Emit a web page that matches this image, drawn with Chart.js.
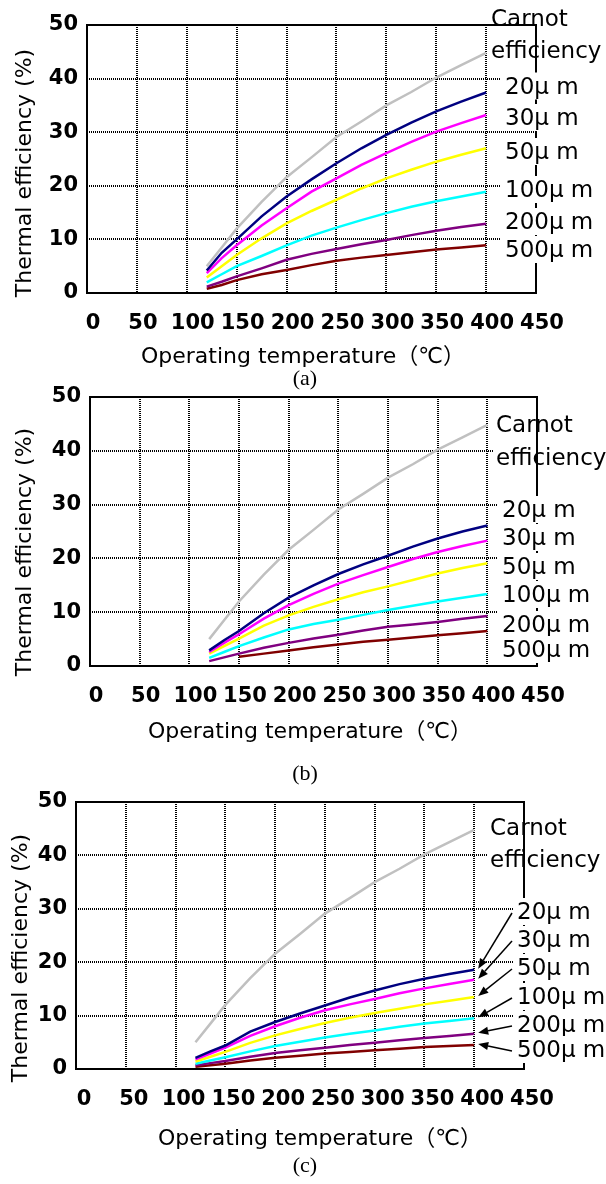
<!DOCTYPE html>
<html>
<head>
<meta charset="utf-8">
<script src="https://cdn.jsdelivr.net/npm/chart.js@4.4.1/dist/chart.umd.min.js"></script>
<style>
  html, body { margin: 0; padding: 0; background: #fff; }
  #page { position: relative; width: 606px; height: 1184px; overflow: hidden; background: #fff; }
  #page canvas { position: absolute; left: 0; }
  .caption {
    position: absolute; width: 60px; text-align: center;
    font-family: "Liberation Serif", "DejaVu Serif", serif;
    font-size: 22px; line-height: 24px; color: #000;
  }
</style>
</head>
<body>
<div id="page">
  <canvas id="chartA" width="606" height="380" style="top:0px"></canvas>
  <canvas id="chartB" width="606" height="405" style="top:380px"></canvas>
  <canvas id="chartC" width="606" height="399" style="top:785px"></canvas>
  <div class="caption" style="left:275px; top:366px">(a)</div>
  <div class="caption" style="left:275px; top:761px">(b)</div>
  <div class="caption" style="left:275px; top:1153px">(c)</div>
</div>
<script>
// Operating temperature (°C) of each point
const temps = [120, 135, 150, 175, 200, 225, 250, 275, 300, 325, 350, 375, 400];

// Carnot limit, same in all three panels
const carnot = [5.0, 8.5, 12.0, 17.0, 21.6, 25.3, 29.1, 32.0, 35.0, 37.5, 40.2, 42.5, 44.8];

// (a)
const a20  = [4.2, 7.5, 10.0, 14.3, 18.0, 21.2, 24.2, 27.0, 29.5, 31.8, 33.9, 35.7, 37.4];
const a30  = [3.7, 6.5, 8.9, 12.6, 15.8, 18.9, 21.4, 23.9, 26.1, 28.2, 30.1, 31.7, 33.2];
const a50  = [2.9, 5.0, 7.1, 10.2, 13.0, 15.3, 17.4, 19.5, 21.4, 23.0, 24.5, 25.8, 27.0];
const a100 = [2.0, 3.5, 5.0, 6.9, 8.9, 10.7, 12.2, 13.6, 14.9, 16.1, 17.1, 18.0, 18.9];
const a200 = [1.2, 2.1, 3.1, 4.6, 6.2, 7.3, 8.2, 9.1, 9.9, 10.8, 11.6, 12.3, 12.9];
const a500 = [0.8, 1.5, 2.4, 3.5, 4.3, 5.2, 6.0, 6.6, 7.1, 7.6, 8.1, 8.5, 8.9];

// (b)
const b20  = [2.9, 4.8, 6.5, 9.8, 12.7, 15.0, 17.1, 18.9, 20.5, 22.2, 23.7, 25.0, 26.1];
const b30  = [2.6, 4.3, 5.9, 8.8, 11.3, 13.4, 15.3, 16.9, 18.4, 19.9, 21.2, 22.3, 23.3];
const b50  = [2.3, 3.7, 5.1, 7.5, 9.4, 11.0, 12.4, 13.7, 14.8, 16.0, 17.2, 18.2, 19.1];
const b100 = [1.5, 2.6, 3.7, 5.3, 6.8, 7.8, 8.6, 9.5, 10.4, 11.2, 12.0, 12.7, 13.4];
const b200 = [0.9, 1.6, 2.3, 3.4, 4.3, 5.1, 5.8, 6.6, 7.3, 7.7, 8.2, 8.8, 9.3];
const b500 = [null, null, 1.7, 2.3, 2.9, 3.5, 4.0, 4.5, 4.9, 5.3, 5.7, 6.1, 6.5];

// (c)
const c20  = [2.1, 3.3, 4.4, 7.0, 8.8, 10.4, 11.9, 13.4, 14.7, 15.9, 16.9, 17.8, 18.6];
const c30  = [1.8, 2.9, 4.0, 6.2, 8.0, 9.6, 11.0, 12.1, 13.1, 14.2, 15.1, 15.9, 16.7];
const c50  = [1.4, 2.3, 3.2, 4.9, 6.3, 7.5, 8.6, 9.6, 10.5, 11.3, 12.1, 12.8, 13.5];
const c100 = [1.0, 1.6, 2.2, 3.3, 4.3, 5.1, 5.9, 6.6, 7.2, 7.9, 8.5, 9.0, 9.5];
const c200 = [0.7, 1.1, 1.5, 2.3, 3.0, 3.5, 4.0, 4.5, 4.9, 5.4, 5.8, 6.2, 6.6];
const c500 = [0.4, 0.7, 1.0, 1.6, 2.1, 2.5, 2.9, 3.2, 3.5, 3.8, 4.1, 4.3, 4.5];

const seriesNames = ['Carnot efficiency', '20μm', '30μm', '50μm', '100μm', '200μm', '500μm'];
const thicknessLabels = ['20μ m', '30μ m', '50μ m', '100μ m', '200μ m', '500μ m'];
const seriesColors = ['#C0C0C0', '#000080', '#FF00FF', '#FFFF00', '#00FFFF', '#800080', '#800000'];

const xMin = 0, xMax = 450, xStep = 50;
const yMin = 0, yMax = 50, yStep = 10;
const xTitle = 'Operating temperature（℃）';
const yTitle = 'Thermal efficiency (%)';

const fontFamily = '"DejaVu Sans", "Noto Sans CJK JP", sans-serif';
const tickFont = { family: fontFamily, size: 21, weight: 'bold' };
const titleFont = `22px ${fontFamily}`;
const labelFont = `23px ${fontFamily}`;

// page coordinates of each panel: plot frame, titles, right-hand labels
const panels = {
  chartA: {
    top: 0, frame: { left: 87, top: 25, right: 536, bottom: 293 }, labelOffset: 6,
    xTitle: { x: 303, y: 357 }, yTitle: { x: 25, y: 173 },
    carnot: { x: 491, y1: 25.5, y2: 58 }, frameTo: 66,
    muX: 505, mu: [93.5, 125, 159, 197, 229, 257], arrows: false
  },
  chartB: {
    top: 380, frame: { left: 90, top: 397, right: 537, bottom: 666 }, labelOffset: 6,
    xTitle: { x: 310, y: 732 }, yTitle: { x: 25, y: 552 },
    carnot: { x: 496, y1: 432, y2: 465 }, frameTo: 488,
    muX: 502, mu: [517, 545, 574, 602, 632, 657], arrows: false
  },
  chartC: {
    top: 785, frame: { left: 76, top: 802, right: 524, bottom: 1069 }, labelOffset: 8,
    xTitle: { x: 320, y: 1139 }, yTitle: { x: 21, y: 958 },
    carnot: { x: 490, y1: 835, y2: 867 }, frameTo: 889,
    muX: 517, mu: [919, 947, 975, 1004, 1032, 1057], arrows: true
  }
};

function line(ctx, x1, y1, x2, y2) {
  ctx.beginPath();
  ctx.moveTo(x1, y1);
  ctx.lineTo(x2, y2);
  ctx.stroke();
}

// frame, titles and the labels at the right of each plot
const panelText = {
  id: 'panelText',
  afterDraw(chart) {
    const p = panels[chart.canvas.id];
    const ctx = chart.ctx;
    const ca = chart.chartArea;
    const W = chart.width;
    const off = p.top;
    ctx.save();
    ctx.strokeStyle = '#000';
    ctx.fillStyle = '#000';
    ctx.lineWidth = 2;

    // right edge, partly hidden by the labels
    line(ctx, ca.right, ca.top, ca.right, ca.bottom + 1);

    ctx.font = labelFont;
    ctx.textAlign = 'left';
    ctx.textBaseline = 'alphabetic';

    thicknessLabels.forEach((txt, i) => {
      const base = p.mu[i] - off;
      ctx.fillStyle = '#fff';
      ctx.fillRect(p.muX - 4, base - 21, W, 27);
      ctx.fillStyle = '#000';
      ctx.fillText(txt, p.muX, base);
    });

    const cy1 = p.carnot.y1 - off, cy2 = p.carnot.y2 - off;
    ctx.fillStyle = '#fff';
    ctx.fillRect(p.carnot.x - 3, cy1 - 21, W, cy2 + 6 - (cy1 - 21));
    ctx.fillStyle = '#000';
    ctx.fillText('Carnot', p.carnot.x, cy1);
    ctx.fillText('efficiency', p.carnot.x, cy2);

    if (p.arrows) {
      ctx.lineWidth = 1.5;
      thicknessLabels.forEach((txt, i) => {
        const meta = chart.getDatasetMeta(i + 1);
        const end = meta.data[meta.data.length - 1];
        const tx = end.x + 4, ty = end.y - 1;
        const sx = p.muX - 5, sy = p.mu[i] - off - 6;
        const ang = Math.atan2(ty - sy, tx - sx);
        const hl = 10, hw = 4;
        const bx = tx - hl * Math.cos(ang), by = ty - hl * Math.sin(ang);
        line(ctx, sx, sy, bx, by);
        ctx.beginPath();
        ctx.moveTo(tx, ty);
        ctx.lineTo(bx + hw * Math.sin(ang), by - hw * Math.cos(ang));
        ctx.lineTo(bx - hw * Math.sin(ang), by + hw * Math.cos(ang));
        ctx.closePath();
        ctx.fill();
      });
      ctx.lineWidth = 2;
    }

    // plot frame
    ctx.lineJoin = 'miter';
    ctx.beginPath();
    ctx.moveTo(ca.right, p.frameTo - off);
    ctx.lineTo(ca.right, ca.top);
    ctx.lineTo(ca.left, ca.top);
    ctx.lineTo(ca.left, ca.bottom);
    ctx.lineTo(ca.right + 1, ca.bottom);
    ctx.stroke();

    // axis titles
    ctx.font = titleFont;
    ctx.textAlign = 'center';
    ctx.textBaseline = 'middle';
    ctx.fillText(xTitle, p.xTitle.x, p.xTitle.y - off);
    ctx.translate(p.yTitle.x, p.yTitle.y - off);
    ctx.rotate(-Math.PI / 2);
    ctx.fillText(yTitle, 0, 0);
    ctx.restore();
  }
};

function buildChart(id, series) {
  const p = panels[id];
  const canvas = document.getElementById(id);
  const H = canvas.height;
  const f = p.frame;
  return new Chart(canvas, {
    type: 'line',
    data: {
      datasets: series.map((vals, i) => ({
        label: seriesNames[i],
        data: temps.map((t, k) => ({ x: t, y: vals[k] })),
        borderColor: seriesColors[i],
        borderWidth: 2.5,
        pointRadius: 0,
        tension: 0,
        fill: false
      }))
    },
    options: {
      responsive: false,
      animation: false,
      layout: { padding: { left: 0, right: 606 - f.right, top: f.top - p.top, bottom: 0 } },
      plugins: { legend: { display: false }, tooltip: { enabled: false } },
      scales: {
        x: {
          type: 'linear', min: xMin, max: xMax,
          ticks: { stepSize: xStep, padding: 18, labelOffset: p.labelOffset, color: '#000', font: tickFont, maxRotation: 0 },
          grid: { color: '#000', lineWidth: 2, drawTicks: false },
          border: { display: false, dash: [1, 1] },
          afterFit: s => { s.height = H - (f.bottom - p.top); s.paddingLeft = 0; s.paddingRight = 0; }
        },
        y: {
          type: 'linear', min: yMin, max: yMax,
          ticks: { stepSize: yStep, padding: 9, color: '#000', font: tickFont },
          grid: { color: '#000', lineWidth: 2, drawTicks: false },
          border: { display: false, dash: [1, 1] },
          afterFit: s => { s.width = f.left; s.paddingTop = 0; s.paddingBottom = 0; }
        }
      }
    },
    plugins: [panelText]
  });
}

buildChart('chartA', [carnot, a20, a30, a50, a100, a200, a500]);
buildChart('chartB', [carnot, b20, b30, b50, b100, b200, b500]);
buildChart('chartC', [carnot, c20, c30, c50, c100, c200, c500]);
</script>
</body>
</html>
